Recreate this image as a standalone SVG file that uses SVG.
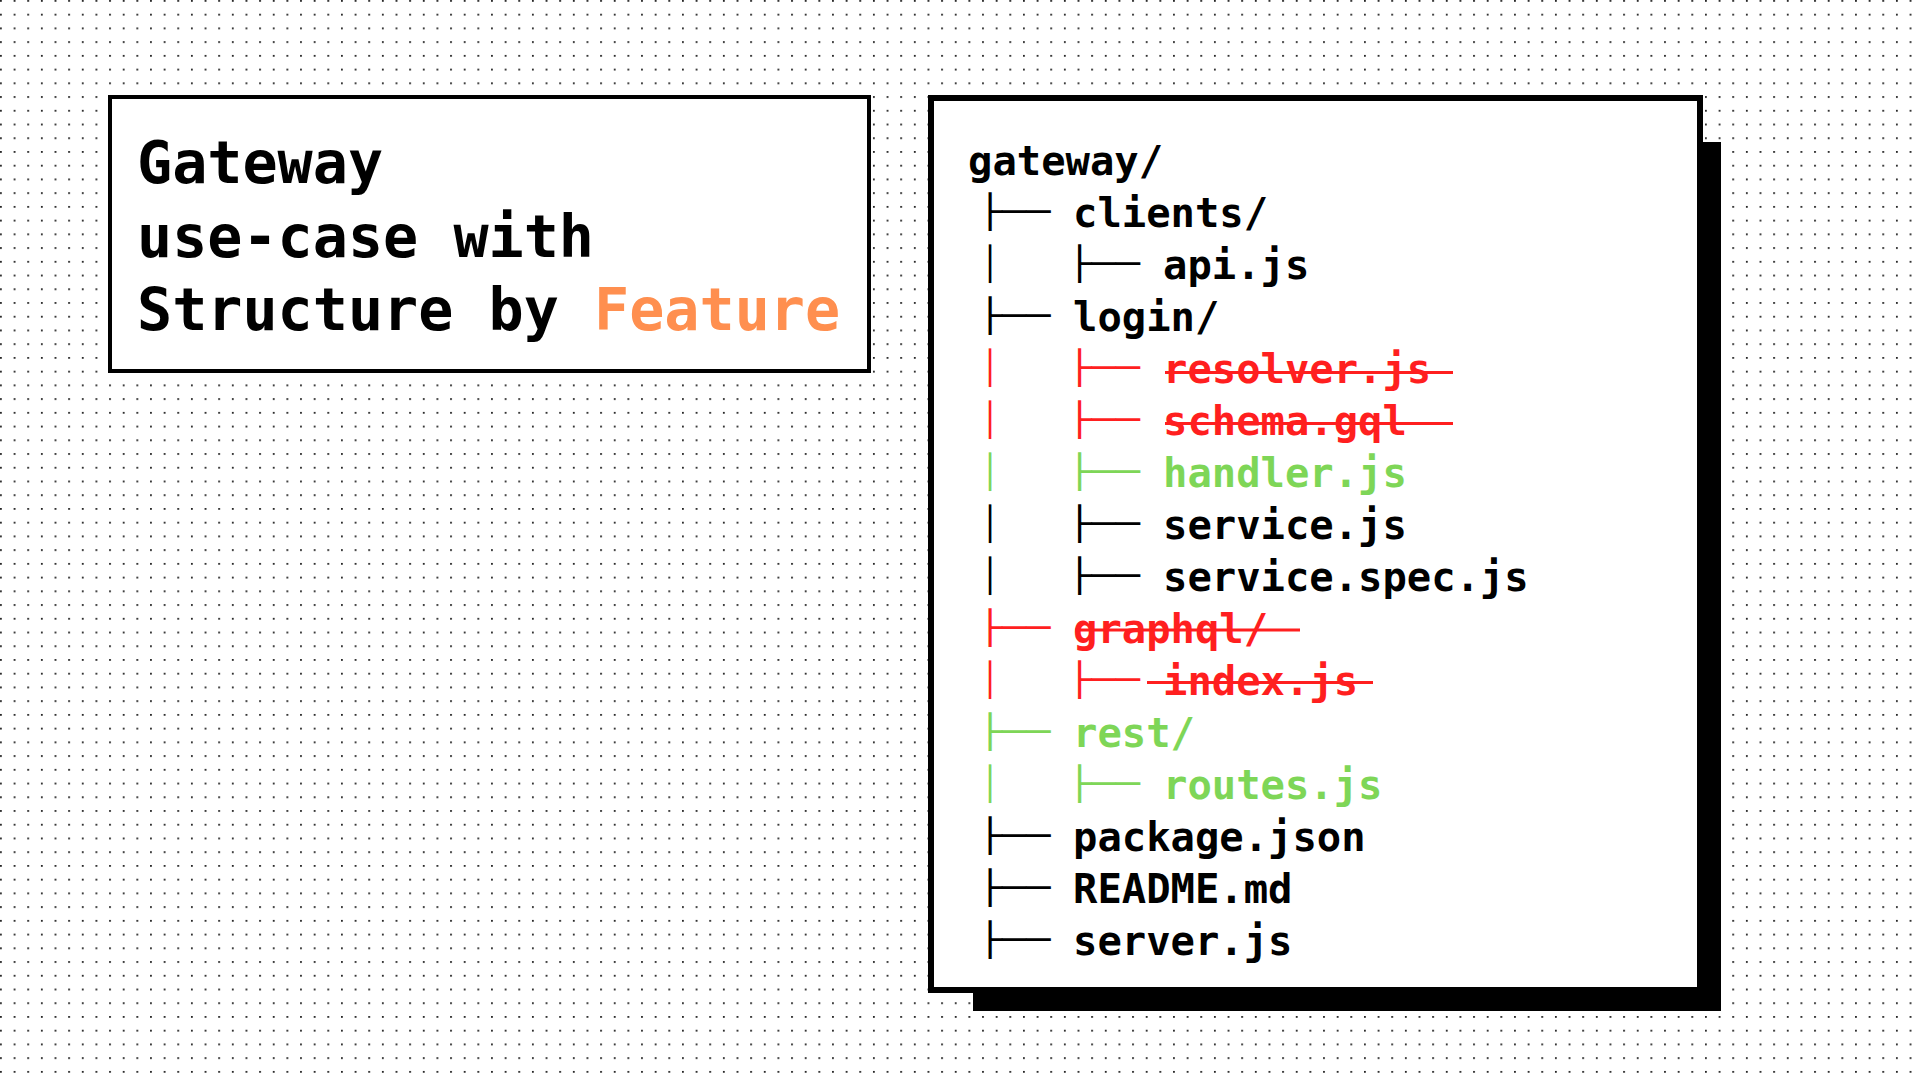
<svg xmlns="http://www.w3.org/2000/svg" width="1920" height="1080" viewBox="0 0 1920 1080">
<style>
.title{font-family:"DejaVu Sans Mono","Liberation Mono",monospace;font-weight:bold;font-size:58.4px;fill:#000}
.orange{fill:#FF8F4F}
.name{font-family:"DejaVu Sans Mono","Liberation Mono",monospace;font-weight:bold;font-size:40.5px}
.tree{font-family:"DejaVu Sans Mono",monospace;font-weight:normal;font-size:32.6px}
.k{fill:#000}
.r{fill:#FF1F1F}
.g{fill:#7ED657}
.strike{stroke:#FF1F1F;stroke-width:3.2}
</style>
<defs>
<pattern id="dots" patternUnits="userSpaceOnUse" width="13.64" height="13.73">
<rect x="0" y="0" width="1.8" height="1.8" fill="#222"/>
</pattern>
</defs>
<rect width="1920" height="1080" fill="#fff"/>
<rect width="1920" height="1080" fill="url(#dots)"/>

<g id="title-box">
<rect x="110" y="97" width="759" height="274" fill="#fff" stroke="#000" stroke-width="4"/>
<text class="title" x="137" y="183">Gateway</text>
<text class="title" x="137" y="256.5">use-case with</text>
<text class="title" x="137" y="330">Structure by <tspan class="orange">Feature</tspan></text>
</g>

<g id="tree-box">
<rect x="973" y="142" width="748" height="869" fill="#000"/>
<rect x="931" y="98" width="769" height="892" fill="#fff" stroke="#000" stroke-width="6"/>
</g>

<g id="connectors"></g>

<g id="tree">
<g id="n-gateway"><text class="name k" x="968" y="174.8">gateway/</text></g>

<g id="n-clients">
<text class="tree k" x="977.9" y="223.3" textLength="72.6" lengthAdjust="spacingAndGlyphs">├──</text>
<text class="name k" x="1073" y="226.8">clients/</text>
</g>
<g id="n-api">
<text class="tree k" x="980.2" y="275.3">│</text>
<text class="tree k" x="1067.4" y="275.3" textLength="72.6" lengthAdjust="spacingAndGlyphs">├──</text>
<text class="name k" x="1163" y="278.8">api.js</text>
</g>
<g id="n-login">
<text class="tree k" x="977.9" y="327.3" textLength="72.6" lengthAdjust="spacingAndGlyphs">├──</text>
<text class="name k" x="1073" y="330.8">login/</text>
</g>
<g id="n-resolver">
<text class="tree r" x="980.2" y="379.3">│</text>
<text class="tree r" x="1067.4" y="379.3" textLength="72.6" lengthAdjust="spacingAndGlyphs">├──</text>
<text class="name r" x="1163" y="382.8">resolver.js</text>
<line class="strike" x1="1165" y1="372.5" x2="1453" y2="372.5"/>
</g>
<g id="n-schema">
<text class="tree r" x="980.2" y="431.3">│</text>
<text class="tree r" x="1067.4" y="431.3" textLength="72.6" lengthAdjust="spacingAndGlyphs">├──</text>
<text class="name r" x="1163" y="434.8">schema.gql</text>
<line class="strike" x1="1165" y1="423.5" x2="1453" y2="423.5"/>
</g>
<g id="n-handler">
<text class="tree g" x="980.2" y="483.3">│</text>
<text class="tree g" x="1067.4" y="483.3" textLength="72.6" lengthAdjust="spacingAndGlyphs">├──</text>
<text class="name g" x="1163" y="486.8">handler.js</text>
</g>
<g id="n-service">
<text class="tree k" x="980.2" y="535.3">│</text>
<text class="tree k" x="1067.4" y="535.3" textLength="72.6" lengthAdjust="spacingAndGlyphs">├──</text>
<text class="name k" x="1163" y="538.8">service.js</text>
</g>
<g id="n-service-spec">
<text class="tree k" x="980.2" y="587.3">│</text>
<text class="tree k" x="1067.4" y="587.3" textLength="72.6" lengthAdjust="spacingAndGlyphs">├──</text>
<text class="name k" x="1163" y="590.8">service.spec.js</text>
</g>
<g id="n-graphql">
<text class="tree r" x="977.9" y="639.3" textLength="72.6" lengthAdjust="spacingAndGlyphs">├──</text>
<text class="name r" x="1073" y="642.8">graphql/</text>
<line class="strike" x1="1075" y1="630" x2="1300" y2="630"/>
</g>
<g id="n-index">
<text class="tree r" x="980.2" y="691.3">│</text>
<text class="tree r" x="1067.4" y="691.3" textLength="72.6" lengthAdjust="spacingAndGlyphs">├──</text>
<text class="name r" x="1163" y="694.8">index.js</text>
<line class="strike" x1="1147" y1="682.5" x2="1373" y2="682.5"/>
</g>
<g id="n-rest">
<text class="tree g" x="977.9" y="743.3" textLength="72.6" lengthAdjust="spacingAndGlyphs">├──</text>
<text class="name g" x="1073" y="746.8">rest/</text>
</g>
<g id="n-routes">
<text class="tree g" x="980.2" y="795.3">│</text>
<text class="tree g" x="1067.4" y="795.3" textLength="72.6" lengthAdjust="spacingAndGlyphs">├──</text>
<text class="name g" x="1163" y="798.8">routes.js</text>
</g>
<g id="n-package">
<text class="tree k" x="977.9" y="847.3" textLength="72.6" lengthAdjust="spacingAndGlyphs">├──</text>
<text class="name k" x="1073" y="850.8">package.json</text>
</g>
<g id="n-readme">
<text class="tree k" x="977.9" y="899.3" textLength="72.6" lengthAdjust="spacingAndGlyphs">├──</text>
<text class="name k" x="1073" y="902.8">README.md</text>
</g>
<g id="n-server">
<text class="tree k" x="977.9" y="951.3" textLength="72.6" lengthAdjust="spacingAndGlyphs">├──</text>
<text class="name k" x="1073" y="954.8">server.js</text>
</g>
</g>
</svg>
